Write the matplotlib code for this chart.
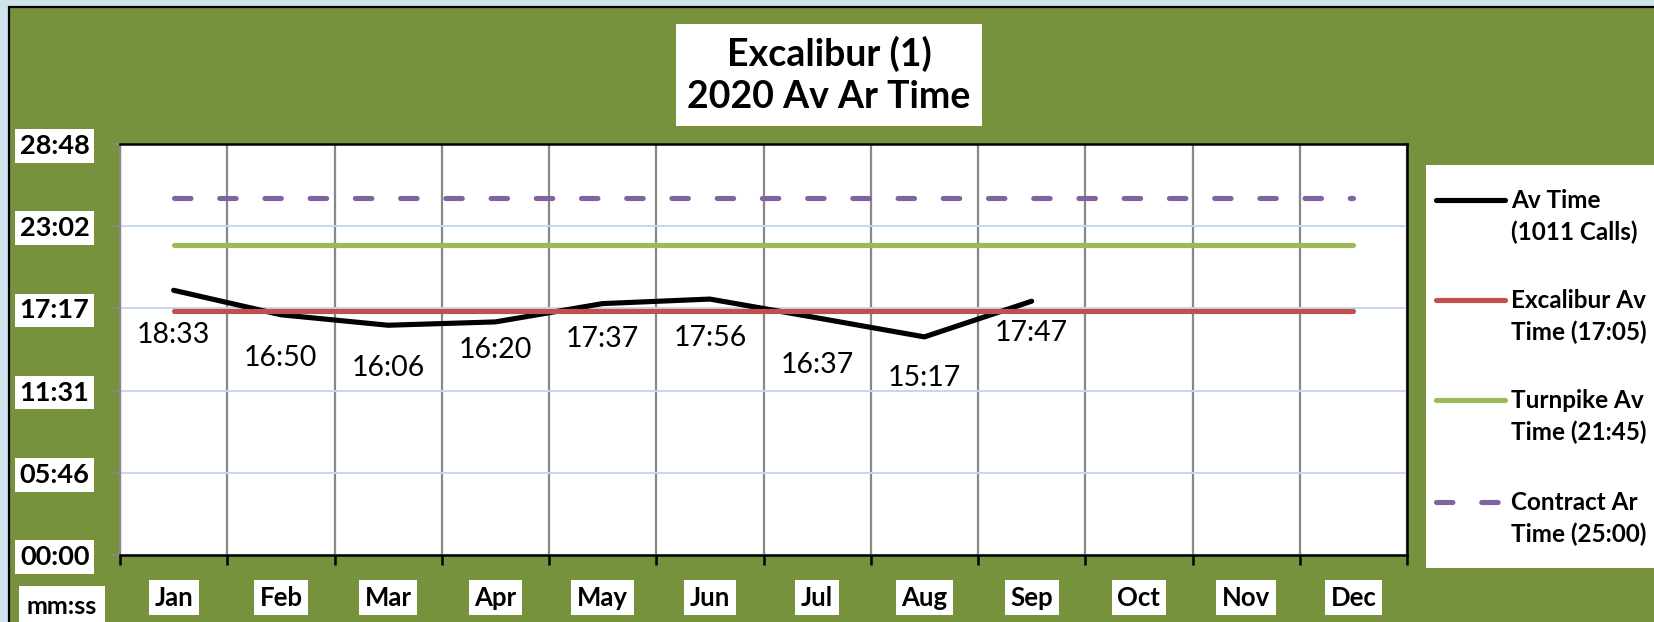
import matplotlib
matplotlib.use("Agg")
import matplotlib.pyplot as plt
from matplotlib.patches import Rectangle
from matplotlib.lines import Line2D
import numpy as np

# ---------------- data ----------------
months = ["Jan", "Feb", "Mar", "Apr", "May", "Jun", "Jul", "Aug", "Sep", "Oct", "Nov", "Dec"]
av_time = ["18:33", "16:50", "16:06", "16:20", "17:37", "17:56", "16:37", "15:17", "17:47"]
excalibur_av = "17:05"
turnpike_av = "21:45"
contract_ar = "25:00"
y_max = "28:48"
n_ytick_steps = 5
title_lines = ["Excalibur (1)", "2020 Av Ar Time"]
legend_labels = [("Av Time", "(1011 Calls)"),
                 ("Excalibur Av", "Time (17:05)"),
                 ("Turnpike Av", "Time (21:45)"),
                 ("Contract Ar", "Time (25:00)")]


def to_sec(s):
    m, sec = s.split(":")
    return int(m) * 60 + int(sec)


def fmt(sec):
    sec = int(round(sec))
    return f"{sec // 60:02d}:{sec % 60:02d}"


av_sec = [to_sec(v) for v in av_time]

# ---------------- layout ----------------
W, H = 1654, 622
FONT = "Lato"
plt.rcParams["font.family"] = [FONT, "DejaVu Sans"]

fig = plt.figure(figsize=(W / 100, H / 100), dpi=100)
fig.patch.set_facecolor("#cfe3ec")


def fx(px):
    return px / W


def fy(py):
    return 1 - py / H


GREEN_BG = "#76923c"
fig.patches.append(Rectangle((fx(9), fy(H + 20)), fx(W + 40), (H + 13) / H,
                             transform=fig.transFigure, facecolor=GREEN_BG,
                             edgecolor="black", linewidth=1.6, zorder=-5))

# plot area
L, T, R, B = 120, 144, 1407, 555
ax = fig.add_axes([fx(L), fy(B), fx(R - L), (B - T) / H])
ax.set_facecolor("white")

ymax = to_sec(y_max)
ax.set_ylim(0, ymax)
ax.set_xlim(-0.5, len(months) - 0.5)

x = np.arange(len(months))
colors = {"av": "black", "exc": "#c0504d", "turn": "#9bbb59", "con": "#8064a2"}
lw = 3.7

ax.plot(x[:len(av_sec)], av_sec, color=colors["av"], lw=lw,
        solid_capstyle="round", solid_joinstyle="miter", zorder=3)
ax.plot(x, [to_sec(excalibur_av)] * len(months), color=colors["exc"], lw=lw,
        solid_capstyle="round", zorder=4)
ax.plot(x, [to_sec(turnpike_av)] * len(months), color=colors["turn"], lw=lw,
        solid_capstyle="round", zorder=4)
ax.plot(x, [to_sec(contract_ar)] * len(months), color=colors["con"], lw=lw,
        dashes=(3.2, 5.6), dash_capstyle="round", zorder=4)

# data labels (offset below points, in pixels)
label_dy = [45, 43, 43, 28, 35, 39, 47, 41, 32]
for i, (s, txt) in enumerate(zip(av_sec, av_time)):
    ax.annotate(txt, (x[i], s), xytext=(0, -label_dy[i] * 0.72),
                textcoords="offset points", ha="center", va="center",
                fontsize=20.5, color="black", zorder=5)

# y ticks
yt = np.linspace(0, ymax, n_ytick_steps + 1)
ax.set_yticks(yt)
ax.set_yticklabels([fmt(v) for v in yt])
ax.yaxis.grid(True, color="#c6d7ee", lw=1.4)
ax.tick_params(axis="y", length=6, width=1.3, color="#8a8a8a", pad=16,
               labelsize=19.5)
for lbl in ax.get_yticklabels():
    lbl.set_fontweight("bold")
    lbl.set_bbox(dict(facecolor="white", edgecolor="none", pad=3.5))

# x ticks: labels at centers, ticks & grid at boundaries
ax.set_xticks(x)
ax.set_xticklabels(months)
ax.set_xticks(np.arange(-0.5, len(months)), minor=True)
ax.tick_params(axis="x", which="major", length=0, pad=22, labelsize=18.5)
ax.tick_params(axis="x", which="minor", length=7, width=1.8, color="black",
               direction="out")
ax.xaxis.grid(True, which="minor", color="#888888", lw=1.6)
for lbl in ax.get_xticklabels():
    lbl.set_fontweight("bold")
    lbl.set_bbox(dict(facecolor="white", edgecolor="none", pad=4.0))
ax.set_axisbelow(True)

for side in ["top", "right", "bottom"]:
    ax.spines[side].set_color("black")
    ax.spines[side].set_linewidth(1.8)
ax.spines["left"].set_color("#888888")
ax.spines["left"].set_linewidth(1.6)

# title box
fig.text(fx(829), fy(75), "\n".join(title_lines), ha="center", va="center",
         fontsize=27, fontweight="bold", linespacing=1.3,
         bbox=dict(facecolor="white", edgecolor="none", pad=8))

# unit label
fig.text(fx(62), fy(606), "mm:ss", ha="center", va="center", fontsize=18,
         fontweight="bold",
         bbox=dict(facecolor="white", edgecolor="none", pad=6))

# legend (manual)
LL, LT, LR, LB = 1426, 165, 1680, 568
lax = fig.add_axes([fx(LL), fy(LB), fx(LR - LL), (LB - LT) / H])
lax.set_facecolor("white")
lax.set_xlim(0, LR - LL)
lax.set_ylim(LB - LT, 0)
lax.set_xticks([])
lax.set_yticks([])
for s in lax.spines.values():
    s.set_visible(False)
entry_y = [35, 135, 235, 337]
styles = [dict(color=colors["av"]), dict(color=colors["exc"]),
          dict(color=colors["turn"]),
          dict(color=colors["con"], dashes=(3.2, 5.6), dash_capstyle="round")]
for (l1, l2), yy, st in zip(legend_labels, entry_y, styles):
    lax.add_line(Line2D([10, 79], [yy, yy], lw=lw, solid_capstyle="round", **st))
    lax.text(85, yy, l1, ha="left", va="center", fontsize=17.5, fontweight="bold")
    lax.text(85, yy + 32, l2, ha="left", va="center", fontsize=17.5, fontweight="bold")

fig.savefig("out.png", dpi=100, facecolor=fig.get_facecolor())
